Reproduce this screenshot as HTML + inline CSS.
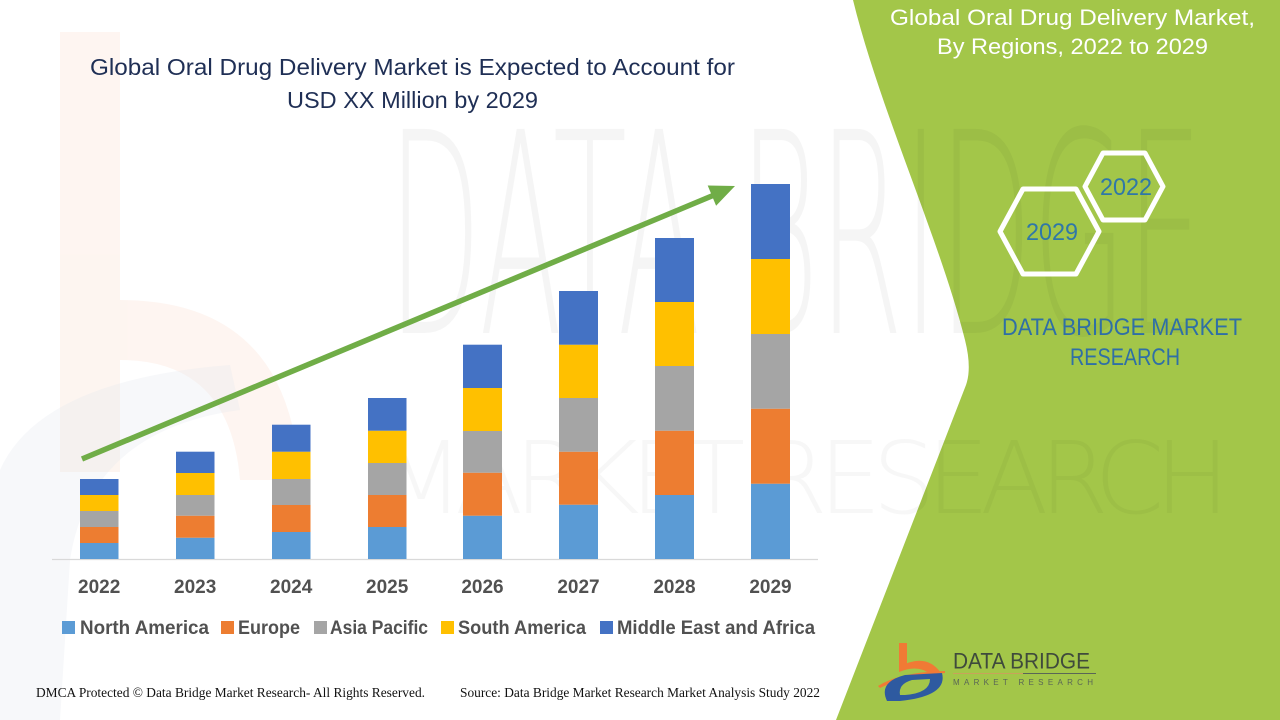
<!DOCTYPE html>
<html>
<head>
<meta charset="utf-8">
<style>
  html, body { margin: 0; padding: 0; background: #ffffff; }
  body { width: 1280px; height: 720px; overflow: hidden; }
  svg { display: block; }
</style>
</head>
<body>
<svg width="1280" height="720" viewBox="0 0 1280 720" xmlns="http://www.w3.org/2000/svg">
  <rect x="0" y="0" width="1280" height="720" fill="#ffffff"/>

  <!-- faint background watermark: orange "b" and gray swoosh on the left -->
  <g opacity="0.35">
    <rect x="60" y="32" width="60" height="440" fill="#fbe3d6"/>
    <path d="M120,300 Q290,300 300,480 L240,480 Q230,360 120,360 Z" fill="#fbe3d6"/>
  </g>
  <g opacity="0.3">
    <path d="M0,720 L0,470 Q40,380 230,365 L240,410 Q90,430 70,560 L60,720 Z" fill="#e6e9ef"/>
  </g>

  <!-- green right panel -->
  <path d="M853,0 C880,110 940,240 965,340 Q972,368 966,385 L836,720 L1280,720 L1280,0 Z" fill="#a3c649"/>

  <!-- watermark big letters -->
  <text x="388" y="333" font-family="DejaVu Sans, Liberation Sans, sans-serif" font-weight="200" font-size="280" textLength="815" lengthAdjust="spacingAndGlyphs" fill="#000000" fill-opacity="0.038">DATA BRIDGE</text>
  <text x="378" y="513" font-family="DejaVu Sans, Liberation Sans, sans-serif" font-weight="200" font-size="100" textLength="852" lengthAdjust="spacing" fill="#000000" fill-opacity="0.03">MARKET RESEARCH</text>

  <!-- chart title -->
  <text x="90" y="75" font-family="Liberation Sans, sans-serif" font-size="23" fill="#1f2f55" textLength="645" lengthAdjust="spacingAndGlyphs">Global Oral Drug Delivery Market is Expected to Account for</text>
  <text x="287" y="108" font-family="Liberation Sans, sans-serif" font-size="23" fill="#1f2f55" textLength="251" lengthAdjust="spacingAndGlyphs">USD XX Million by 2029</text>

  <!-- axis line -->
  <line x1="52" y1="559.5" x2="818" y2="559.5" stroke="#d9d9d9" stroke-width="1.2"/>

  <!-- bars -->
  <g>
    <rect x="80" y="543" width="38.5" height="16" fill="#5b9bd5"/>
    <rect x="80" y="527" width="38.5" height="16" fill="#ed7d31"/>
    <rect x="80" y="511" width="38.5" height="16" fill="#a5a5a5"/>
    <rect x="80" y="495" width="38.5" height="16" fill="#ffc000"/>
    <rect x="80" y="479" width="38.5" height="16" fill="#4472c4"/>

    <rect x="176" y="537.7" width="38.5" height="21.3" fill="#5b9bd5"/>
    <rect x="176" y="515.7" width="38.5" height="22" fill="#ed7d31"/>
    <rect x="176" y="495" width="38.5" height="20.7" fill="#a5a5a5"/>
    <rect x="176" y="473" width="38.5" height="22" fill="#ffc000"/>
    <rect x="176" y="451.7" width="38.5" height="21.3" fill="#4472c4"/>

    <rect x="272" y="532" width="38.5" height="27" fill="#5b9bd5"/>
    <rect x="272" y="505" width="38.5" height="27" fill="#ed7d31"/>
    <rect x="272" y="479" width="38.5" height="26" fill="#a5a5a5"/>
    <rect x="272" y="451.7" width="38.5" height="27.3" fill="#ffc000"/>
    <rect x="272" y="424.7" width="38.5" height="27" fill="#4472c4"/>

    <rect x="368" y="527" width="38.5" height="32" fill="#5b9bd5"/>
    <rect x="368" y="495" width="38.5" height="32" fill="#ed7d31"/>
    <rect x="368" y="463" width="38.5" height="32" fill="#a5a5a5"/>
    <rect x="368" y="430.7" width="38.5" height="32.3" fill="#ffc000"/>
    <rect x="368" y="398" width="38.5" height="32.7" fill="#4472c4"/>

    <rect x="463" y="515.7" width="39" height="43.3" fill="#5b9bd5"/>
    <rect x="463" y="472.7" width="39" height="43" fill="#ed7d31"/>
    <rect x="463" y="431" width="39" height="41.7" fill="#a5a5a5"/>
    <rect x="463" y="388" width="39" height="43" fill="#ffc000"/>
    <rect x="463" y="344.7" width="39" height="43.3" fill="#4472c4"/>

    <rect x="559" y="504.7" width="39" height="54.3" fill="#5b9bd5"/>
    <rect x="559" y="451.7" width="39" height="53" fill="#ed7d31"/>
    <rect x="559" y="398" width="39" height="53.7" fill="#a5a5a5"/>
    <rect x="559" y="344.7" width="39" height="53.3" fill="#ffc000"/>
    <rect x="559" y="291" width="39" height="53.7" fill="#4472c4"/>

    <rect x="655" y="495" width="39" height="64" fill="#5b9bd5"/>
    <rect x="655" y="430.7" width="39" height="64.3" fill="#ed7d31"/>
    <rect x="655" y="366" width="39" height="64.7" fill="#a5a5a5"/>
    <rect x="655" y="302" width="39" height="64" fill="#ffc000"/>
    <rect x="655" y="238" width="39" height="64" fill="#4472c4"/>

    <rect x="751" y="483.7" width="39" height="75.3" fill="#5b9bd5"/>
    <rect x="751" y="408.7" width="39" height="75" fill="#ed7d31"/>
    <rect x="751" y="334" width="39" height="74.7" fill="#a5a5a5"/>
    <rect x="751" y="259" width="39" height="75" fill="#ffc000"/>
    <rect x="751" y="184" width="39" height="75" fill="#4472c4"/>
  </g>

  <!-- growth arrow -->
  <line x1="82" y1="459" x2="713" y2="195.5" stroke="#70ad47" stroke-width="5.5"/>
  <polygon points="735,186 707.7,185.5 716.1,205.7" fill="#70ad47"/>

  <!-- x labels -->
  <g font-family="Liberation Sans, sans-serif" font-size="19" font-weight="bold" fill="#515151" text-anchor="middle">
    <text x="99.2" y="593">2022</text>
    <text x="195.2" y="593">2023</text>
    <text x="291.2" y="593">2024</text>
    <text x="387.2" y="593">2025</text>
    <text x="482.5" y="593">2026</text>
    <text x="578.5" y="593">2027</text>
    <text x="674.5" y="593">2028</text>
    <text x="770.5" y="593">2029</text>
  </g>

  <!-- legend -->
  <g font-family="Liberation Sans, sans-serif" font-size="19" font-weight="bold" fill="#515151">
    <rect x="62" y="621" width="13" height="13" fill="#5b9bd5"/>
    <text x="80" y="634" textLength="129" lengthAdjust="spacingAndGlyphs">North America</text>
    <rect x="221" y="621" width="13" height="13" fill="#ed7d31"/>
    <text x="238" y="634" textLength="62" lengthAdjust="spacingAndGlyphs">Europe</text>
    <rect x="314" y="621" width="13" height="13" fill="#a5a5a5"/>
    <text x="330" y="634" textLength="98" lengthAdjust="spacingAndGlyphs">Asia Pacific</text>
    <rect x="441" y="621" width="13" height="13" fill="#ffc000"/>
    <text x="458" y="634" textLength="128" lengthAdjust="spacingAndGlyphs">South America</text>
    <rect x="600" y="621" width="13" height="13" fill="#4472c4"/>
    <text x="617" y="634" textLength="198" lengthAdjust="spacingAndGlyphs">Middle East and Africa</text>
  </g>

  <!-- footer -->
  <g font-family="Liberation Serif, serif" font-size="13.5" fill="#111111">
    <text x="36" y="697" textLength="389" lengthAdjust="spacingAndGlyphs">DMCA Protected © Data Bridge Market Research- All Rights Reserved.</text>
    <text x="460" y="697" textLength="360" lengthAdjust="spacingAndGlyphs">Source: Data Bridge Market Research Market Analysis Study 2022</text>
  </g>

  <!-- right panel title -->
  <g font-family="Liberation Sans, sans-serif" font-size="22" fill="#ffffff">
    <text x="890" y="25" textLength="365" lengthAdjust="spacingAndGlyphs">Global Oral Drug Delivery Market,</text>
    <text x="937" y="54" textLength="271" lengthAdjust="spacingAndGlyphs">By Regions, 2022 to 2029</text>
  </g>

  <!-- hexagons -->
  <polygon points="1085,186.5 1103,153 1145,153 1163,186.5 1145,220 1103,220" fill="none" stroke="#ffffff" stroke-width="5" stroke-linejoin="round"/>
  <polygon points="1000,231.5 1023,189 1076,189 1099,231.5 1076,274 1023,274" fill="none" stroke="#ffffff" stroke-width="5" stroke-linejoin="round"/>
  <g font-family="Liberation Sans, sans-serif" font-size="24" fill="#2f77a8">
    <text x="1100" y="195" textLength="52" lengthAdjust="spacingAndGlyphs">2022</text>
    <text x="1026" y="240" textLength="52" lengthAdjust="spacingAndGlyphs">2029</text>
  </g>

  <!-- DATA BRIDGE MARKET RESEARCH -->
  <g font-family="Liberation Sans, sans-serif" font-size="24" fill="#2f6fa6">
    <text x="1002" y="335" textLength="240" lengthAdjust="spacingAndGlyphs">DATA BRIDGE MARKET</text>
    <text x="1070" y="365" textLength="110" lengthAdjust="spacingAndGlyphs">RESEARCH</text>
  </g>

  <!-- bottom logo -->
  <g>
    <rect x="899" y="643" width="8" height="24" fill="#f07a35"/>
    <path d="M899,667 Q926,652 941,673 L930,674 Q918,664 899,672 Z" fill="#f07a35"/>
    <path d="M878,686 Q900,672 945,671 L945,673 Q905,676 880,688 Z" fill="#f07a35"/>
    <path d="M887,701 Q878,682 905,675 L942,673 Q948,696 900,701 Z" fill="#2e5aa0"/>
    <path d="M900,695 Q898,684 912,680 L930,679 Q930,693 905,695 Z" fill="#a3c649"/>
    <text x="953" y="668.5" font-family="Liberation Sans, sans-serif" font-size="22" fill="#3f4a3c" textLength="137" lengthAdjust="spacingAndGlyphs">DATA BRIDGE</text>
    <line x1="953" y1="673.5" x2="1023" y2="673.5" stroke="#c9a25a" stroke-width="1"/>
    <line x1="1023" y1="673.5" x2="1096" y2="673.5" stroke="#5a6656" stroke-width="1"/>
    <text x="953" y="685" font-family="Liberation Sans, sans-serif" font-size="8" fill="#5a6656" textLength="140" lengthAdjust="spacing">MARKET  RESEARCH</text>
  </g>
</svg>
</body>
</html>
